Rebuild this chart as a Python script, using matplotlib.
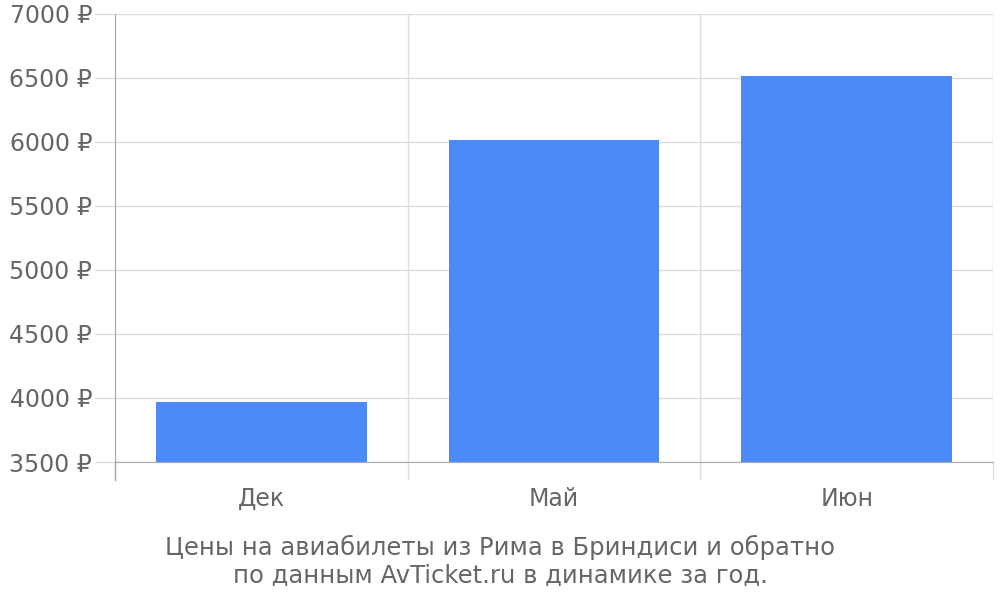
import matplotlib
matplotlib.use('Agg')
import matplotlib.pyplot as plt
import numpy as np

# Данные
months = ['Дек', 'Май', 'Июн']
prices = [3970, 6015, 6515]
y_ticks = [3500, 4000, 4500, 5000, 5500, 6000, 6500, 7000]
caption = 'Цены на авиабилеты из Рима в Бриндиси и обратно\nпо данным AvTicket.ru в динамике за год.'

TXT = '#666666'
GRID = '#dddddd'
AXIS = '#aaaaaa'

fig = plt.figure(figsize=(10, 6), dpi=100)
ax = fig.add_axes([0.115, 0.23, 0.878, 0.7467])

x = np.arange(len(months))
ax.bar(x, prices, width=0.72, color='#4d8af9', zorder=3)

ax.set_xlim(-0.5, len(months) - 0.5)
ax.set_ylim(y_ticks[0], y_ticks[-1])
ax.set_yticks(y_ticks)
ax.set_yticklabels([f'{v} ₽' for v in y_ticks])
ax.set_xticks(x)
ax.set_xticklabels(months)
ax.set_xticks(np.arange(len(months) + 1) - 0.5, minor=True)

ax.tick_params(axis='y', length=14.4, width=1, color=GRID, pad=2,
               labelsize=17, labelcolor=TXT)
ax.tick_params(axis='x', which='major', length=0, pad=18,
               labelsize=17, labelcolor=TXT)
ax.tick_params(axis='x', which='minor', length=13, width=1, color=GRID)

ax.grid(axis='y', color=GRID, lw=1, zorder=0)
ax.grid(axis='x', which='minor', color=GRID, lw=1, zorder=0)

for s in ['top', 'right']:
    ax.spines[s].set_visible(False)
ax.spines['left'].set_color(AXIS)
ax.spines['bottom'].set_color(AXIS)
ax.spines['left'].set_zorder(4)
ax.spines['bottom'].set_zorder(4)
# левая линия продолжается вниз
ax.plot([-0.5, -0.5], [y_ticks[0], y_ticks[0] - 140], color=AXIS, lw=1,
        clip_on=False, zorder=4)

fig.text(0.5, 0.064, caption, ha='center', va='center', fontsize=17.5,
         color=TXT, linespacing=1.2)

plt.savefig('out.png', dpi=100)
plt.close()
